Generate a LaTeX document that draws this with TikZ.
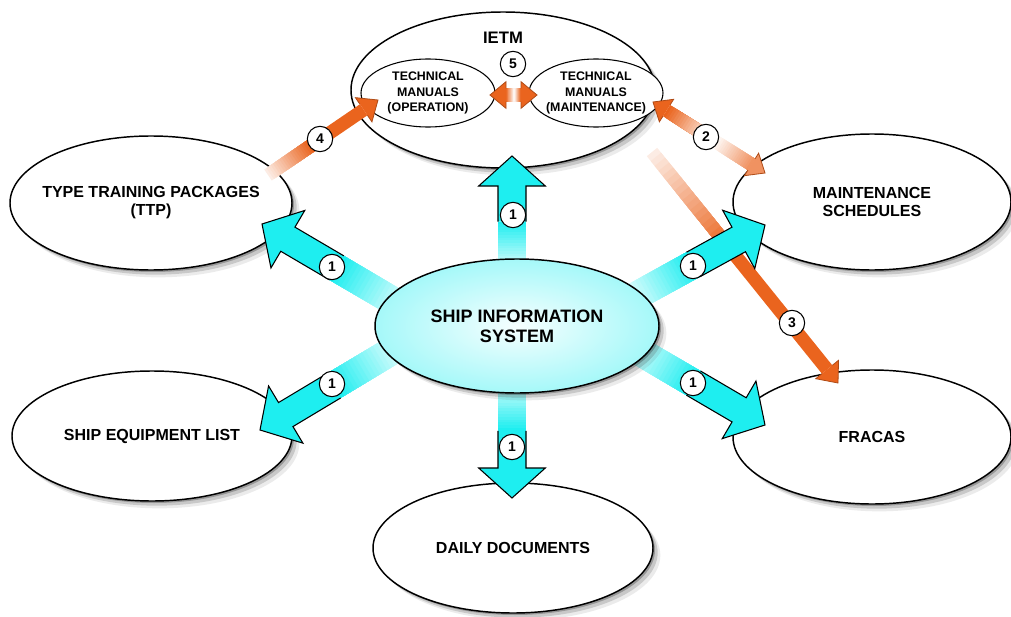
\documentclass[tikz,border=0pt]{standalone}
\usepackage{fontspec}
\setmainfont{Liberation Sans}
\usepackage{xcolor}
\usepackage{tikz}
\usetikzlibrary{calc}
\usetikzlibrary{shapes.geometric}
\usetikzlibrary{shadows}

\definecolor{aqua}{RGB}{30,238,240}
\definecolor{rust}{RGB}{234,100,30}
\colorlet{aquafade}{aqua!6!white}
\colorlet{rustfade}{rust!12!white}
\colorlet{rustsoft}{rust!70!white}

\tikzset{
  bubble/.style={ellipse,draw,line width=1.1pt,fill=white,align=center,inner xsep=-8pt,inner ysep=1pt,
    font=\fontsize{12}{13.5}\selectfont\bfseries},
  softshadow/.style={drop shadow={shadow xshift=1.5pt,shadow yshift=-1.5pt,fill=black,opacity=.25},
    drop shadow={shadow xshift=3.5pt,shadow yshift=-3.5pt,fill=black,opacity=.15},
    drop shadow={shadow xshift=5.5pt,shadow yshift=-5.5pt,fill=black,opacity=.08}},
  manual/.style={ellipse,draw,line width=.8pt,fill=white,align=center,inner xsep=-6pt,inner ysep=0pt,
    minimum width=100.5pt,minimum height=51pt,font=\fontsize{9.3}{11.6}\selectfont\bfseries},
  num/.style={circle,draw,line width=.8pt,fill=white,inner sep=0pt,minimum size=19pt,
    font=\fontsize{10.5}{10.5}\selectfont\bfseries}
}

% gradient band from #1 to #2, half width #3, colour #4 -> #5
\newcommand\band[5]{%
  \foreach \k in {0,...,19}{%
    \pgfmathtruncatemacro\mixc{\k*100/19}%
    \coordinate (q) at ($(#1)!\k/20!(#2)$);
    \fill[#5!\mixc!#4] ($(q)!#3!90:(#2)$) -- ($(#2)!#3!-90:(#1)$)
      -- ($(#2)!#3!90:(#1)$) -- ($(q)!#3!-90:(#2)$) -- cycle;
  }}

% fat cyan arrow, #1 tail, #2 tip
\newcommand\bigarrow[2]{%
  \coordinate (hb) at ($(#2)!22.5pt!(#1)$);
  \coordinate (fm) at ($(#1)!.6!(hb)$);
  \band{#1}{fm}{10.5pt}{aquafade}{aqua}
  \filldraw[fill=aqua,line width=.8pt,line join=miter]
    ($(fm)!10.5pt!90:(#2)$) -- ($(hb)!10.5pt!90:(#2)$) -- ($(hb)!25pt!90:(#2)$) -- (#2)
    -- ($(hb)!25pt!-90:(#2)$) -- ($(hb)!10.5pt!-90:(#2)$) -- ($(fm)!10.5pt!-90:(#2)$);
}

% thin orange arrow, #1 tail, #2 tip
\newcommand\thinarrow[2]{%
  \coordinate (hb) at ($(#2)!13pt!(#1)$);
  \coordinate (fm) at ($(#1)!.45!(hb)$);
  \band{#1}{fm}{5pt}{rustfade}{rust}
  \fill[rust] ($(fm)!5pt!90:(#2)$) -- ($(hb)!5pt!90:(#2)$) -- ($(hb)!5pt!-90:(#2)$) -- ($(fm)!5pt!-90:(#2)$) -- cycle;
  \filldraw[fill=rust,draw=rust!75!black,line width=.6pt]
    ($(hb)!5pt!90:(#2)$) -- ($(hb)!11pt!90:(#2)$) -- (#2) -- ($(hb)!11pt!-90:(#2)$) -- ($(hb)!5pt!-90:(#2)$);
}

% two-way orange arrow, #3 colour at second end
\newcommand\twoway[3]{%
  \coordinate (ha) at ($(#1)!12pt!(#2)$);
  \coordinate (hz) at ($(#2)!12pt!(#1)$);
  \coordinate (hm) at ($(ha)!.55!(hz)$);
  \band{ha}{hm}{5pt}{rust}{white}
  \band{hm}{hz}{5pt}{white}{#3}
  \filldraw[fill=rust,draw=rust!75!black,line width=.6pt]
    ($(ha)!5pt!90:(#1)$) -- ($(ha)!10pt!90:(#1)$) -- (#1) -- ($(ha)!10pt!-90:(#1)$) -- ($(ha)!5pt!-90:(#1)$);
  \filldraw[fill=#3,draw=rust!75!black,line width=.6pt]
    ($(hz)!5pt!90:(#2)$) -- ($(hz)!10pt!90:(#2)$) -- (#2) -- ($(hz)!10pt!-90:(#2)$) -- ($(hz)!5pt!-90:(#2)$);
}

\begin{document}
\begin{tikzpicture}[x=0.75pt,y=-0.75pt]
\useasboundingbox (0,0) rectangle (1011,617);

% outer ellipses
\node[bubble,softshadow,minimum width=228pt,minimum height=117pt] (ietm) at (503,90) {};
\node[font=\fontsize{12.5}{14}\selectfont\bfseries] (ietm text) at (503,38) {IETM};
\node[manual] (tmop) at (428,93) {TECHNICAL\\MANUALS\\(OPERATION)};
\node[manual] (tmmt) at (596,93) {TECHNICAL\\MANUALS\\(MAINTENANCE)};
\node[bubble,softshadow,minimum width=211.5pt,minimum height=100.5pt] (ttp) at (151,203) {TYPE TRAINING PACKAGES\\(TTP)};
\node[bubble,softshadow,minimum width=208.5pt,minimum height=102pt] (msch) at (872,202) {MAINTENANCE\\SCHEDULES};
\node[bubble,softshadow,minimum width=210pt,minimum height=97.5pt] (sel) at (152,436) {SHIP EQUIPMENT LIST};
\node[bubble,softshadow,minimum width=208.5pt,minimum height=100.5pt] (frac) at (872,437) {FRACAS};
\node[bubble,softshadow,minimum width=210pt,minimum height=97.5pt] (daily) at (513,548) {DAILY DOCUMENTS};

% ietm -> fracas
\coordinate (tail frac) at (652,152);
\coordinate (tip frac) at (838,383);
\thinarrow{tail frac}{tip frac}

% cyan arrows
\coordinate (tail ietm) at (512,275);  \coordinate (tip ietm) at (512,156);
\coordinate (tail ttp) at (410,311);   \coordinate (tip ttp) at (262,224);
\coordinate (tail msch) at (625,302);  \coordinate (tip msch) at (765,225);
\coordinate (tail sel) at (405,343);   \coordinate (tip sel) at (260,430);
\coordinate (tail fr) at (625,343);    \coordinate (tip fr) at (765,425);
\coordinate (tail daily) at (512,375); \coordinate (tip daily) at (512,498);
\bigarrow{tail ietm}{tip ietm}
\bigarrow{tail ttp}{tip ttp}
\bigarrow{tail msch}{tip msch}
\bigarrow{tail sel}{tip sel}
\bigarrow{tail fr}{tip fr}
\bigarrow{tail daily}{tip daily}

\node[bubble,softshadow,inner color=aqua!4,outer color=aqua!40,minimum width=213pt,minimum height=100.5pt,
  font=\fontsize{13.5}{15}\selectfont\bfseries] (sis) at (517,326) {SHIP INFORMATION\\SYSTEM};

% orange arrows
\coordinate (tail tmop) at (268,175); \coordinate (tip tmop) at (378,100);
\thinarrow{tail tmop}{tip tmop}
\coordinate (end tmmt) at (653,102);  \coordinate (end msch) at (765,173);
\twoway{end tmmt}{end msch}{rustsoft}
\coordinate (end op) at (490,95);     \coordinate (end mt) at (537,95);
\twoway{end op}{end mt}{rust}

% numbers
\node[num] (n ietm) at (513,215) {1};
\node[num] (n ttp) at (332,267) {1};
\node[num] (n msch) at (693,266) {1};
\node[num] (n sel) at (332,384) {1};
\node[num] (n frac) at (693,383) {1};
\node[num] (n daily) at (512,447) {1};
\node[num] (n two) at (706,137) {2};
\node[num] (n three) at (792,323) {3};
\node[num] (n four) at (320,139) {4};
\node[num] (n five) at (513,64) {5};
\end{tikzpicture}
\end{document}
